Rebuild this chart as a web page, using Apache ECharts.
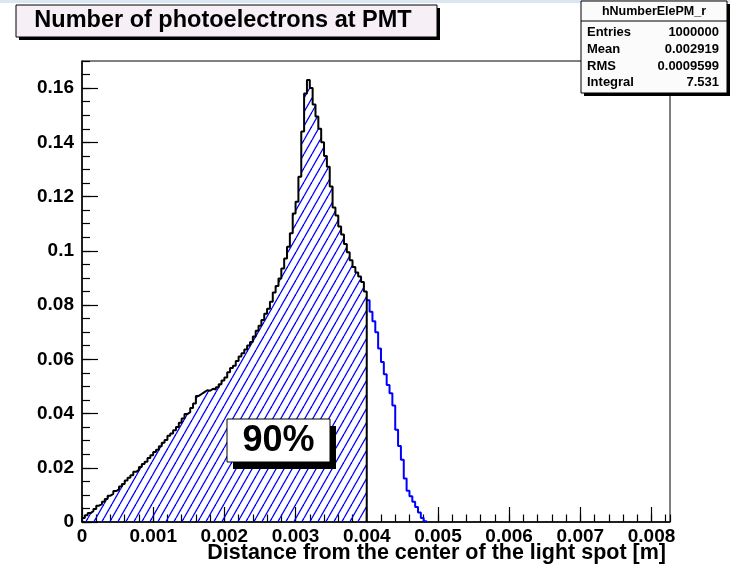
<!DOCTYPE html>
<html><head><meta charset="utf-8">
<script src="https://cdn.jsdelivr.net/npm/echarts@6/dist/echarts.min.js"></script>
<style>html,body{margin:0;padding:0;background:#fff}#c{width:730px;height:571px}</style>
</head><body><div id="c"></div>
<script>
// ---- data ----
const binWidth = 0.00004;
const cutValue = 0.004;
const xMin = 0, xMax = 0.00826, yMin = 0, yMax = 0.17;
const insideValues = [
  0.0015, 0.0025, 0.0033, 0.0040, 0.0048, 0.0060, 0.0066, 0.0075, 0.0085, 0.0097,
  0.0104, 0.0114, 0.0120, 0.0131, 0.0140, 0.0153, 0.0163, 0.0172, 0.0185, 0.0192,
  0.0203, 0.0214, 0.0222, 0.0236, 0.0246, 0.0258, 0.0266, 0.0279, 0.0292, 0.0302,
  0.0318, 0.0326, 0.0338, 0.0350, 0.0366, 0.0382, 0.0398, 0.0405, 0.0420, 0.0437,
  0.0465, 0.0472, 0.0479, 0.0486, 0.0484, 0.0491, 0.0489, 0.0497, 0.0508, 0.0522,
  0.0533, 0.0552, 0.0568, 0.0576, 0.0594, 0.0610, 0.0622, 0.0636, 0.0651, 0.0664,
  0.0684, 0.0705, 0.0724, 0.0745, 0.0768, 0.0786, 0.0812, 0.0846, 0.0870, 0.0898,
  0.0935, 0.0972, 0.1015, 0.1065, 0.1138, 0.1181, 0.1273, 0.1440, 0.1580, 0.1630,
  0.1600, 0.1540, 0.1495, 0.1450, 0.1400, 0.1350, 0.1310, 0.1237, 0.1160, 0.1130,
  0.1090, 0.1060, 0.1025, 0.0995, 0.0965, 0.0940, 0.0920, 0.0905, 0.0885, 0.0850
];
const tailValues = [
  0.0818, 0.0775, 0.0740, 0.0700, 0.0640, 0.0590, 0.0545, 0.0505, 0.0475, 0.0430,
  0.0340, 0.0280, 0.0230, 0.0160, 0.0115, 0.0095, 0.0075, 0.0055, 0.0035, 0.0015, 0.0003
];
const titleText = 'Number of photoelectrons at PMT';
const xTitle = 'Distance from the center of the light spot [m]';
const statsName = 'hNumberElePM_r';
const statsLabels = ['Entries', 'Mean', 'RMS', 'Integral'];
const statsValues = ['1000000', '0.002919', '0.0009599', '7.531'];
const boxText = '90%';

// ---- build ----
const FONT = '"Liberation Sans", Arial, Helvetica, sans-serif';
const insidePts = [[0, 0]];
insideValues.forEach((v, i) => insidePts.push([i * binWidth, v]));
insidePts.push([cutValue, 0]);
const tailPts = [];
tailValues.forEach((v, i) => tailPts.push([cutValue + i * binWidth, v]));
tailPts.push([cutValue + tailValues.length * binWidth, 0]);

const pc = document.createElement('canvas');
pc.width = 8; pc.height = 14;
const g = pc.getContext('2d');
g.strokeStyle = '#0000ff'; g.lineWidth = 1.3;
[[-8, 0], [0, 0], [8, 0]].forEach(([dx]) => {
  g.beginPath(); g.moveTo(dx, 14); g.lineTo(dx + 8, 0); g.stroke();
});

const chart = echarts.init(document.getElementById('c'), null, {renderer: 'canvas'});
const labelStyle = {color: '#000', fontFamily: FONT, fontWeight: 'bold', fontSize: 19};
const graphic = [
  {type: 'rect', z: 100, shape: {x: 0, y: 0, width: 730, height: 3}, style: {fill: '#dbe6f3'}},
  // title box
  {type: 'rect', z: 100, shape: {x: 19, y: 8, width: 421, height: 32}, style: {fill: '#000'}},
  {type: 'rect', z: 101, shape: {x: 16, y: 5, width: 421, height: 32}, style: {fill: '#f6f0f6', stroke: '#000', lineWidth: 1}},
  {type: 'text', z: 102, x: 223, y: 21, style: {text: titleText, fill: '#000', font: 'bold 23.5px ' + FONT, align: 'center', verticalAlign: 'middle'}},
  // stats box
  {type: 'rect', z: 100, shape: {x: 584, y: 4, width: 146, height: 92}, style: {fill: '#000'}},
  {type: 'rect', z: 101, shape: {x: 581, y: 1, width: 146, height: 92}, style: {fill: '#fbfbfb', stroke: '#000', lineWidth: 1}},
  {type: 'line', z: 102, shape: {x1: 581, y1: 21, x2: 727, y2: 21}, style: {stroke: '#000', lineWidth: 1}},
  {type: 'text', z: 102, x: 654, y: 12, style: {text: statsName, fill: '#000', font: 'bold 12.5px ' + FONT, align: 'center', verticalAlign: 'middle'}},
  // 90% box
  {type: 'rect', z: 100, shape: {x: 233, y: 426, width: 103, height: 43}, style: {fill: '#000'}},
  {type: 'rect', z: 101, shape: {x: 227, y: 419, width: 103, height: 43}, style: {fill: '#fff', stroke: '#000', lineWidth: 1}},
  {type: 'text', z: 102, x: 278.5, y: 441, style: {text: boxText, fill: '#000', font: 'bold 36px ' + FONT, align: 'center', verticalAlign: 'middle'}},
  // x axis title
  {type: 'text', z: 102, x: 666, y: 553, style: {text: xTitle, fill: '#000', font: 'bold 21.5px ' + FONT, align: 'right', verticalAlign: 'middle'}}
];
const rowY = [32, 49, 66, 82];
statsLabels.forEach((t, i) => {
  graphic.push({type: 'text', z: 102, x: 587, y: rowY[i], style: {text: t, fill: '#000', font: 'bold 13px ' + FONT, align: 'left', verticalAlign: 'middle'}});
  graphic.push({type: 'text', z: 102, x: 719, y: rowY[i], style: {text: statsValues[i], fill: '#000', font: 'bold 13px ' + FONT, align: 'right', verticalAlign: 'middle'}});
});

chart.setOption({
  animation: false,
  backgroundColor: '#fff',
  grid: {left: 82, right: 60, top: 61, bottom: 49, show: true, borderColor: '#000', borderWidth: 1, backgroundColor: 'transparent'},
  xAxis: [
    {type: 'value', min: xMin, max: xMax, interval: 0.001, position: 'bottom',
     axisLine: {lineStyle: {color: '#000', width: 1.5}},
     axisTick: {inside: true, length: 15, lineStyle: {color: '#000', width: 1.2}},
     axisLabel: Object.assign({margin: 5, showMaxLabel: false}, labelStyle),
     splitLine: {show: false}},
    {type: 'value', min: xMin, max: xMax, interval: 0.0002, position: 'bottom',
     axisLine: {show: false},
     axisTick: {inside: true, length: 7.5, lineStyle: {color: '#000', width: 1.2}},
     axisLabel: {show: false}, splitLine: {show: false}}
  ],
  yAxis: [
    {type: 'value', min: yMin, max: yMax, interval: 0.02, position: 'left',
     axisLine: {lineStyle: {color: '#000', width: 1.5}},
     axisTick: {inside: true, length: 16, lineStyle: {color: '#000', width: 1.2}},
     axisLabel: Object.assign({margin: 8, showMaxLabel: false}, labelStyle),
     splitLine: {show: false}},
    {type: 'value', min: yMin, max: yMax, interval: 0.005, position: 'left',
     axisLine: {show: false},
     axisTick: {inside: true, length: 8, lineStyle: {color: '#000', width: 1.2}},
     axisLabel: {show: false}, splitLine: {show: false}}
  ],
  series: [
    {type: 'line', xAxisIndex: 0, yAxisIndex: 0, step: 'end', symbol: 'none', data: insidePts,
     lineStyle: {color: '#000', width: 2}, areaStyle: {color: {image: pc, repeat: 'repeat'}, opacity: 1}, z: 3},
    {type: 'line', xAxisIndex: 0, yAxisIndex: 0, step: 'end', symbol: 'none', data: tailPts,
     lineStyle: {color: '#0000ff', width: 2}, z: 2}
  ],
  graphic: graphic
});
</script>
</body></html>
